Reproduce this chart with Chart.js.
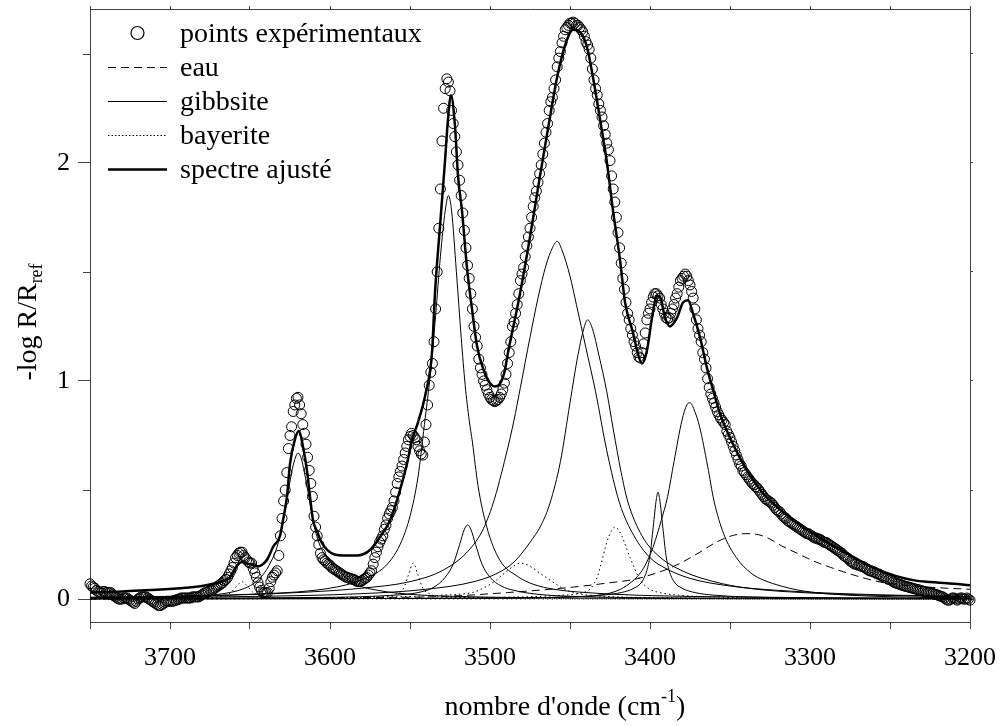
<!DOCTYPE html>
<html>
<head>
<meta charset="utf-8">
<script src="https://cdn.jsdelivr.net/npm/chart.js@4.4.1/dist/chart.umd.min.js"></script>
<style>
html, body { margin: 0; padding: 0; background: #fff; }
#wrap { width: 1000px; height: 726px; }
</style>
</head>
<body>
<div id="wrap"><canvas id="chart" width="1000" height="726"></canvas></div>
<script>
// experimental points, one per cm-1 from 3750 down to 3200
const expStart = 3750;
const expAbs = [
    0.07, 0.06, 0.055, 0.05, 0.04, 0.035, 0.03, 0.03, 0.035, 0.035,          // 3750
    0.03, 0.03, 0.03, 0.03, 0.02, 0.015, 0.01, 0.005, 0, 0,                  // 3740
    0, 0.005, 0.005, 0.005, 0, -0.005, -0.01, -0.015, -0.02, -0.01,          // 3730
    0, 0.005, 0.01, 0.01, 0.01, 0.01, 0.005, 0, -0.005, -0.01,               // 3720
    -0.015, -0.02, -0.025, -0.03, -0.03, -0.025, -0.02, -0.015, -0.01, -0.01,// 3710
    -0.01, -0.01, -0.01, -0.005, -0.005, 0, 0, 0.005, 0.005, 0.005,          // 3700
    0.005, 0.005, 0.005, 0.005, 0.01, 0.01, 0.01, 0.01, 0.01, 0.015,         // 3690
    0.02, 0.025, 0.03, 0.03, 0.035, 0.04, 0.04, 0.045, 0.05, 0.055,          // 3680
    0.06, 0.065, 0.07, 0.075, 0.085, 0.09, 0.10, 0.115, 0.13, 0.145,         // 3670
    0.165, 0.19, 0.20, 0.21, 0.215, 0.215, 0.20, 0.19, 0.18, 0.17,           // 3660
    0.165, 0.165, 0.14, 0.12, 0.10, 0.075, 0.055, 0.04, 0.03, 0.03,          // 3650
    0.03, 0.03, 0.05, 0.08, 0.10, 0.11, 0.12, 0.13, 0.20, 0.29,              // 3640
    0.37, 0.45, 0.50, 0.58, 0.69, 0.75, 0.79, 0.86, 0.89, 0.92,              // 3630
    0.925, 0.89, 0.85, 0.80, 0.76, 0.71, 0.65, 0.59, 0.53, 0.47,             // 3620
    0.38, 0.33, 0.29, 0.25, 0.21, 0.19, 0.18, 0.175, 0.165, 0.16,            // 3610
    0.155, 0.145, 0.14, 0.135, 0.13, 0.125, 0.12, 0.115, 0.11, 0.105,        // 3600
    0.10, 0.10, 0.095, 0.095, 0.09, 0.09, 0.085, 0.08, 0.08, 0.08,           // 3590
    0.085, 0.09, 0.095, 0.10, 0.11, 0.12, 0.13, 0.16, 0.19, 0.215,           // 3580
    0.24, 0.26, 0.275, 0.29, 0.32, 0.34, 0.37, 0.39, 0.405, 0.42,            // 3570
    0.45, 0.49, 0.53, 0.56, 0.585, 0.61, 0.64, 0.67, 0.70, 0.73,             // 3560
    0.745, 0.76, 0.75, 0.74, 0.73, 0.70, 0.68, 0.665, 0.66, 0.72,            // 3550
    0.80, 0.89, 0.98, 1.04, 1.08, 1.18, 1.33, 1.50, 1.70, 1.88,              // 3540
    2.10, 2.25, 2.34, 2.385, 2.37, 2.33, 2.24, 2.18, 2.12, 2.05,             // 3530
    1.99, 1.92, 1.85, 1.77, 1.69, 1.61, 1.53, 1.47, 1.40, 1.33,              // 3520
    1.25, 1.20, 1.16, 1.10, 1.06, 1.03, 1.00, 0.98, 0.96, 0.94,              // 3510
    0.925, 0.915, 0.91, 0.905, 0.91, 0.915, 0.925, 0.94, 0.96, 0.99,         // 3500
    1.03, 1.08, 1.13, 1.18, 1.25, 1.27, 1.31, 1.35, 1.40, 1.46,              // 3490
    1.49, 1.52, 1.57, 1.62, 1.66, 1.70, 1.75, 1.80, 1.84, 1.87,              // 3480
    1.91, 1.95, 1.99, 2.04, 2.09, 2.14, 2.18, 2.24, 2.28, 2.30,              // 3470
    2.34, 2.38, 2.44, 2.48, 2.51, 2.55, 2.58, 2.61, 2.62, 2.63,              // 3460
    2.64, 2.64, 2.645, 2.64, 2.63, 2.63, 2.62, 2.61, 2.60, 2.58,             // 3450
    2.555, 2.54, 2.52, 2.48, 2.43, 2.38, 2.34, 2.31, 2.27, 2.24,             // 3440
    2.21, 2.17, 2.13, 2.09, 2.06, 2.01, 1.94, 1.88, 1.82, 1.75,              // 3430
    1.68, 1.61, 1.54, 1.47, 1.42, 1.36, 1.31, 1.28, 1.24, 1.21,              // 3420
    1.18, 1.16, 1.13, 1.11, 1.105, 1.13, 1.17, 1.22, 1.28, 1.31,             // 3410
    1.33, 1.36, 1.385, 1.40, 1.40, 1.39, 1.38, 1.35, 1.33, 1.31,             // 3400
    1.29, 1.285, 1.29, 1.31, 1.33, 1.35, 1.38, 1.40, 1.43, 1.46,             // 3390
    1.47, 1.48, 1.49, 1.48, 1.46, 1.44, 1.41, 1.38, 1.33, 1.28,              // 3380
    1.24, 1.21, 1.18, 1.13, 1.10, 1.06, 1.01, 0.97, 0.94, 0.92,              // 3370
    0.90, 0.88, 0.86, 0.845, 0.83, 0.82, 0.81, 0.80, 0.77, 0.755,            // 3360
    0.74, 0.72, 0.70, 0.68, 0.66, 0.64, 0.62, 0.61, 0.59, 0.58,              // 3350
    0.57, 0.56, 0.55, 0.54, 0.53, 0.525, 0.515, 0.51, 0.50, 0.49,            // 3340
    0.48, 0.47, 0.46, 0.455, 0.45, 0.445, 0.44, 0.43, 0.42, 0.41,            // 3330
    0.405, 0.40, 0.39, 0.38, 0.375, 0.37, 0.36, 0.355, 0.35, 0.345,          // 3320
    0.34, 0.335, 0.33, 0.325, 0.32, 0.315, 0.31, 0.305, 0.30, 0.30,          // 3310
    0.295, 0.29, 0.285, 0.28, 0.28, 0.275, 0.275, 0.27, 0.265, 0.26,         // 3300
    0.26, 0.255, 0.25, 0.245, 0.24, 0.235, 0.23, 0.225, 0.22, 0.215,         // 3290
    0.21, 0.20, 0.195, 0.19, 0.185, 0.175, 0.17, 0.165, 0.16, 0.16,          // 3280
    0.155, 0.155, 0.15, 0.15, 0.145, 0.14, 0.135, 0.13, 0.13, 0.125,         // 3270
    0.125, 0.12, 0.115, 0.115, 0.11, 0.105, 0.10, 0.10, 0.095, 0.09,         // 3260
    0.09, 0.085, 0.08, 0.075, 0.073, 0.07, 0.068, 0.065, 0.063, 0.06,        // 3250
    0.058, 0.056, 0.054, 0.052, 0.05, 0.048, 0.046, 0.044, 0.042, 0.04,      // 3240
    0.038, 0.036, 0.034, 0.032, 0.03, 0.03, 0.028, 0.025, 0.022, 0.02,       // 3230
    0.018, 0.015, 0.012, 0.01, 0.005, 0, -0.005, -0.005, 0, 0.005,           // 3220
    0.005, 0, -0.005, 0, 0.005, 0.005, 0, 0, 0.005, 0,                       // 3210
    -0.005                                                                   // 3200
];

// fitted spectrum, [wavenumber, -log R/Rref]
const fitCurve = [
    [3750, 0.03], [3735, 0.033], [3715, 0.04], [3694, 0.05], [3680, 0.06], [3673, 0.07],
    [3668, 0.08], [3662.5, 0.10], [3660, 0.13], [3658, 0.155], [3655, 0.17], [3652, 0.165],
    [3648, 0.155], [3645, 0.15], [3642, 0.16], [3639, 0.185], [3635.5, 0.24], [3631.25, 0.29],
    [3629.4, 0.36], [3626.9, 0.47], [3625, 0.62], [3622, 0.73], [3619.4, 0.77], [3616.9, 0.70],
    [3614.4, 0.59], [3612.5, 0.47], [3610.6, 0.36], [3608, 0.31], [3606, 0.27], [3600, 0.215],
    [3592, 0.20], [3583, 0.20], [3575, 0.225], [3568.75, 0.285], [3562.5, 0.36], [3556.25, 0.50],
    [3551.9, 0.62], [3548.75, 0.73], [3545, 0.81], [3540, 0.95], [3536.25, 1.13], [3534.4, 1.40],
    [3531.25, 1.71], [3528.1, 2.01], [3526.25, 2.20], [3524.4, 2.31], [3521.9, 2.17], [3520, 1.94],
    [3517.5, 1.78], [3514.4, 1.52], [3511.25, 1.33], [3508.1, 1.16], [3504, 1.05], [3500, 0.99],
    [3497, 0.975], [3494, 0.985], [3491, 1.04], [3488.75, 1.13], [3481.25, 1.40], [3475, 1.66],
    [3468.75, 1.94], [3462.5, 2.21], [3458.1, 2.39], [3453, 2.54], [3448.1, 2.61], [3443.75, 2.60],
    [3439.4, 2.53], [3435.6, 2.39], [3431.25, 2.20], [3426.9, 2.00], [3423.1, 1.78], [3418.75, 1.555],
    [3415.6, 1.36], [3410.6, 1.22], [3408.1, 1.14], [3405, 1.08], [3401.9, 1.14], [3398.75, 1.29],
    [3395.6, 1.39], [3393.75, 1.385], [3390.6, 1.29], [3387.5, 1.25], [3383.1, 1.29], [3379.4, 1.36],
    [3376.25, 1.37], [3373.1, 1.31], [3368.75, 1.20], [3364.4, 1.06], [3360.6, 0.96], [3356.25, 0.85],
    [3350, 0.74], [3339.4, 0.59], [3329.4, 0.485], [3318.75, 0.41], [3308, 0.35], [3298, 0.30],
    [3287, 0.25], [3276.9, 0.21], [3266, 0.165], [3256, 0.13], [3246, 0.105], [3235.6, 0.087],
    [3225, 0.078], [3214.4, 0.073], [3200, 0.064]
];

// water band (dashed)
const eau3340 = [
    [3750, 0], [3650, 0.003], [3580, 0.007], [3530, 0.012], [3489, 0.03], [3448, 0.055],
    [3425, 0.075], [3410, 0.09], [3400, 0.11], [3390, 0.135], [3381, 0.165], [3370, 0.21],
    [3360, 0.255], [3350, 0.288], [3340, 0.30], [3332, 0.295], [3325, 0.275], [3318, 0.245],
    [3308, 0.21], [3298, 0.175], [3287, 0.145], [3277, 0.12], [3267, 0.098], [3256, 0.078],
    [3240, 0.063], [3220, 0.052], [3200, 0.045]
];

// gibbsite bands (thin solid)
const gibbsite3620 = [
    [3750, 0.004], [3720, 0.006], [3700, 0.009], [3680, 0.015], [3665, 0.027], [3655, 0.045],
    [3648, 0.07], [3642, 0.11], [3637, 0.17], [3633, 0.24], [3630, 0.33], [3627, 0.45],
    [3624, 0.58], [3622, 0.64], [3620, 0.67], [3618, 0.645], [3616, 0.58], [3613, 0.46],
    [3610, 0.34], [3607, 0.26], [3603, 0.2], [3598, 0.155], [3592, 0.11], [3583, 0.065],
    [3570, 0.04], [3550, 0.022], [3520, 0.012], [3480, 0.007], [3420, 0.004], [3340, 0.002],
    [3200, 0.001]
];
const gibbsite3526 = [
    [3750, 0.008], [3700, 0.012], [3650, 0.022], [3610, 0.04], [3590, 0.065], [3578, 0.095],
    [3567, 0.14], [3560, 0.2], [3555, 0.27], [3550, 0.38], [3545, 0.56], [3541, 0.8],
    [3537, 1.05], [3534, 1.3], [3531, 1.57], [3528, 1.78], [3526, 1.85], [3524, 1.78],
    [3521, 1.5], [3518, 1.2], [3515.5, 0.98], [3513, 0.82], [3511, 0.72], [3507.5, 0.52],
    [3502, 0.33], [3494, 0.18], [3483, 0.105], [3473, 0.068], [3460, 0.045], [3440, 0.03],
    [3400, 0.016], [3350, 0.01], [3280, 0.006], [3200, 0.004]
];
const gibbsite3514 = [
    [3750, 0.003], [3680, 0.005], [3600, 0.008], [3560, 0.018], [3545, 0.03], [3535, 0.055],
    [3528, 0.1], [3523, 0.16], [3519, 0.25], [3516, 0.32], [3514, 0.34], [3512, 0.32],
    [3509, 0.25], [3505, 0.16], [3500, 0.1], [3493, 0.06], [3485, 0.04], [3470, 0.022],
    [3450, 0.013], [3400, 0.006], [3300, 0.003], [3200, 0.002]
];
const gibbsite3458 = [
    [3750, 0.008], [3680, 0.015], [3620, 0.03], [3580, 0.05], [3550, 0.08], [3530, 0.13],
    [3515, 0.21], [3505, 0.31], [3498, 0.44], [3490, 0.66], [3485, 0.82], [3481, 0.97],
    [3475, 1.2], [3470, 1.38], [3465, 1.53], [3461, 1.61], [3458, 1.64], [3455, 1.6],
    [3450, 1.48], [3446, 1.35], [3440, 1.15], [3434, 0.95], [3427, 0.68], [3419, 0.44],
    [3410, 0.29], [3400, 0.19], [3390, 0.14], [3375, 0.095], [3350, 0.06], [3320, 0.04],
    [3280, 0.025], [3240, 0.017], [3200, 0.012]
];
const gibbsite3439 = [
    [3750, 0.006], [3650, 0.012], [3580, 0.025], [3540, 0.045], [3510, 0.08], [3495, 0.12],
    [3485, 0.17], [3475, 0.26], [3468, 0.34], [3462.5, 0.44], [3456, 0.63], [3450, 0.9],
    [3445, 1.12], [3441, 1.25], [3439, 1.28], [3436, 1.24], [3432, 1.12], [3427, 0.95],
    [3423, 0.78], [3418, 0.58], [3414, 0.45], [3405, 0.29], [3395, 0.2], [3380, 0.13],
    [3360, 0.08], [3339, 0.05], [3300, 0.028], [3250, 0.016], [3200, 0.011]
];
const gibbsite3395 = [
    [3750, 0.001], [3500, 0.005], [3450, 0.01], [3430, 0.018], [3418, 0.03], [3410, 0.05],
    [3405, 0.08], [3402, 0.13], [3400, 0.2], [3398, 0.33], [3396, 0.46], [3395, 0.49],
    [3394, 0.46], [3392, 0.33], [3390, 0.2], [3388, 0.13], [3385, 0.08], [3380, 0.05],
    [3372, 0.03], [3360, 0.018], [3340, 0.01], [3290, 0.005], [3200, 0.002]
];
const gibbsite3375 = [
    [3750, 0.001], [3500, 0.004], [3450, 0.01], [3430, 0.02], [3420, 0.04], [3413, 0.07],
    [3406, 0.12], [3402, 0.17], [3398, 0.24], [3393, 0.36], [3389, 0.47], [3385, 0.63],
    [3380, 0.82], [3377, 0.89], [3375, 0.90], [3372, 0.86], [3369, 0.79], [3364, 0.61],
    [3360, 0.45], [3354, 0.30], [3346, 0.19], [3337, 0.12], [3329, 0.087], [3318, 0.06],
    [3308, 0.042], [3290, 0.025], [3260, 0.013], [3230, 0.008], [3200, 0.005]
];

// bayerite bands (dotted)
const bayerite3655 = [
    [3750, 0.001], [3690, 0.002], [3675, 0.006], [3668, 0.012], [3662, 0.03], [3658, 0.062],
    [3655, 0.08], [3652, 0.062], [3648, 0.03], [3642, 0.012], [3635, 0.006], [3610, 0.002],
    [3500, 0.001], [3200, 0]
];
const bayerite3548 = [
    [3750, 0.001], [3620, 0.003], [3580, 0.007], [3565, 0.012], [3558, 0.025], [3554, 0.05],
    [3551, 0.11], [3548, 0.165], [3545, 0.11], [3542, 0.05], [3538, 0.025], [3531, 0.012],
    [3515, 0.007], [3480, 0.003], [3350, 0.001], [3200, 0]
];
const bayerite3481 = [
    [3750, 0.002], [3600, 0.006], [3550, 0.012], [3530, 0.018], [3520, 0.022], [3511, 0.03],
    [3503, 0.055], [3496, 0.087], [3490, 0.125], [3485, 0.152], [3481, 0.165], [3476, 0.155],
    [3470, 0.125], [3462.5, 0.087], [3455, 0.052], [3448, 0.03], [3438, 0.018], [3420, 0.01],
    [3380, 0.005], [3300, 0.002], [3200, 0.001]
];
const bayerite3422 = [
    [3750, 0.001], [3550, 0.004], [3480, 0.01], [3455, 0.018], [3445, 0.025], [3437, 0.05],
    [3433, 0.1], [3431, 0.15], [3427, 0.26], [3424, 0.315], [3422, 0.33], [3419, 0.31],
    [3416, 0.26], [3412.5, 0.19], [3406, 0.087], [3400, 0.045], [3394, 0.03], [3385, 0.02],
    [3370, 0.012], [3340, 0.006], [3280, 0.003], [3200, 0.002]
];

const gibbsiteBands = [gibbsite3620, gibbsite3526, gibbsite3514, gibbsite3458, gibbsite3439, gibbsite3395, gibbsite3375];
const bayeriteBands = [bayerite3655, bayerite3548, bayerite3481, bayerite3422];

const xMinMax = [3200, 3750];
const yMinMax = [-0.105, 2.705];
const yMinorTicks = [0.5, 1.5, 2.5];

const axisColor = '#444';
const serif = 'Liberation Serif';
const eauDash = [8, 5];
const dotDash = [1.5, 3];

function toPoints(pairs) {
    return pairs.map(([x, y]) => ({ x, y }));
}

function lineSet(label, pairs, width, dash) {
    return {
        label,
        data: toPoints(pairs),
        showLine: true,
        borderColor: '#000',
        borderWidth: width,
        borderDash: dash,
        pointRadius: 0,
        pointHoverRadius: 0,
        fill: false,
        cubicInterpolationMode: 'monotone'
    };
}

// fixed axis sizes, no automatic label padding
function fixSize(size, horizontal) {
    return s => {
        if (horizontal) {
            s.height = size;
        } else {
            s.width = size;
        }
        s.paddingLeft = 0;
        s.paddingRight = 0;
        s.paddingTop = 0;
        s.paddingBottom = 0;
    };
}

// legend, axis titles and minor ticks drawn on top of the chart
const decorPlugin = {
    id: 'decor',
    afterDraw(chart) {
        const { ctx, chartArea, scales } = chart;
        ctx.save();

        // minor ticks on the left axis
        ctx.strokeStyle = axisColor;
        ctx.lineWidth = 1;
        for (const v of yMinorTicks) {
            const py = Math.round(scales.y.getPixelForValue(v)) + 0.5;
            ctx.beginPath();
            ctx.moveTo(chartArea.left - 7, py);
            ctx.lineTo(chartArea.left, py);
            ctx.stroke();
        }

        // legend
        const rows = [
            { label: 'points expérimentaux', circle: true },
            { label: 'eau', width: 1, dash: eauDash },
            { label: 'gibbsite', width: 1, dash: [] },
            { label: 'bayerite', width: 1, dash: [1.5, 2] },
            { label: 'spectre ajusté', width: 2.5, dash: [] }
        ];
        const x0 = chartArea.left + 18;
        const x1 = chartArea.left + 77;
        ctx.fillStyle = '#000';
        ctx.strokeStyle = '#000';
        ctx.font = `28px "${serif}"`;
        ctx.textBaseline = 'alphabetic';
        rows.forEach((row, i) => {
            const y = chartArea.top + 24 + i * 34;
            if (row.circle) {
                ctx.setLineDash([]);
                ctx.lineWidth = 1.2;
                ctx.beginPath();
                ctx.arc((x0 + x1) / 2, y, 6.5, 0, Math.PI * 2);
                ctx.stroke();
            } else {
                ctx.setLineDash(row.dash);
                ctx.lineWidth = row.width;
                ctx.beginPath();
                ctx.moveTo(x0, y + 0.5);
                ctx.lineTo(x1, y + 0.5);
                ctx.stroke();
            }
            ctx.setLineDash([]);
            ctx.fillText(row.label, chartArea.left + 90, y + 9);
        });

        // x title with superscript
        const bigFont = `28px "${serif}"`;
        const smallFont = `18px "${serif}"`;
        const xa = 'nombre d\'onde (cm', xs = '-1', xb = ')';
        ctx.font = bigFont;
        const wa = ctx.measureText(xa).width, wb = ctx.measureText(xb).width;
        ctx.font = smallFont;
        const ws = ctx.measureText(xs).width;
        const tx = 565 - (wa + ws + wb) / 2;
        ctx.font = bigFont;
        ctx.fillText(xa, tx, 715);
        ctx.font = smallFont;
        ctx.fillText(xs, tx + wa, 702);
        ctx.font = bigFont;
        ctx.fillText(xb, tx + wa + ws, 715);

        // y title with subscript
        const ya = '-log R/R', ys = 'ref';
        ctx.font = bigFont;
        const wya = ctx.measureText(ya).width;
        ctx.font = smallFont;
        const wys = ctx.measureText(ys).width;
        ctx.translate(18, 322);
        ctx.rotate(-Math.PI / 2);
        const sx = -(wya + wys) / 2;
        ctx.font = bigFont;
        ctx.fillText(ya, sx, 18);
        ctx.font = smallFont;
        ctx.fillText(ys, sx + wya, 24);

        ctx.restore();
    }
};

function render() {
    const datasets = [];
    datasets.push({
        label: 'points expérimentaux',
        data: expAbs.map((y, i) => ({ x: expStart - i, y })),
        showLine: false,
        pointRadius: 5,
        pointHoverRadius: 5,
        pointBorderWidth: 1,
        pointBorderColor: '#000',
        pointBackgroundColor: 'rgba(0,0,0,0)',
        clip: false
    });
    datasets.push(lineSet('spectre ajusté', fitCurve, 2.5, []));
    datasets.push(lineSet('eau', eau3340, 1, eauDash));
    gibbsiteBands.forEach(band => datasets.push(lineSet('gibbsite', band, 1, [])));
    bayeriteBands.forEach(band => datasets.push(lineSet('bayerite', band, 1, dotDash)));

    const tickFont = { family: serif, size: 26 };

    new Chart(document.getElementById('chart').getContext('2d'), {
        type: 'scatter',
        data: { datasets },
        options: {
            responsive: false,
            animation: false,
            events: [],
            layout: { padding: { left: 0, right: 27, top: 6, bottom: 0 } },
            plugins: {
                legend: { display: false },
                tooltip: { enabled: false }
            },
            scales: {
                x: {
                    type: 'linear',
                    position: 'bottom',
                    min: xMinMax[0],
                    max: xMinMax[1],
                    reverse: true,
                    grid: { drawOnChartArea: false, tickLength: 7, color: axisColor },
                    border: { color: axisColor, width: 1 },
                    ticks: {
                        stepSize: 50,
                        autoSkip: false,
                        maxRotation: 0,
                        includeBounds: false,
                        padding: 14,
                        color: '#000',
                        font: tickFont,
                        callback: v => (v % 100 === 0 ? String(v) : '')
                    },
                    afterFit: fixSize(104, true)
                },
                x2: {
                    type: 'linear',
                    position: 'top',
                    min: xMinMax[0],
                    max: xMinMax[1],
                    reverse: true,
                    grid: { drawOnChartArea: false, tickLength: 3, color: axisColor },
                    border: { color: axisColor, width: 1 },
                    ticks: { display: false, stepSize: 50, includeBounds: false },
                    afterFit: fixSize(3, true)
                },
                y: {
                    type: 'linear',
                    position: 'left',
                    min: yMinMax[0],
                    max: yMinMax[1],
                    grid: { drawOnChartArea: false, tickLength: 12, color: axisColor },
                    border: { color: axisColor, width: 1 },
                    ticks: {
                        stepSize: 1,
                        includeBounds: false,
                        padding: 8,
                        color: '#000',
                        font: tickFont,
                        callback: v => String(v)
                    },
                    afterFit: fixSize(90, false)
                },
                y2: {
                    type: 'linear',
                    position: 'right',
                    min: yMinMax[0],
                    max: yMinMax[1],
                    grid: { drawOnChartArea: false, tickLength: 3, color: axisColor },
                    border: { color: axisColor, width: 1 },
                    ticks: { display: false, stepSize: 0.5, includeBounds: false },
                    afterFit: fixSize(3, false)
                }
            }
        },
        plugins: [decorPlugin]
    });
}

document.addEventListener('DOMContentLoaded', render);
</script>
</body>
</html>
